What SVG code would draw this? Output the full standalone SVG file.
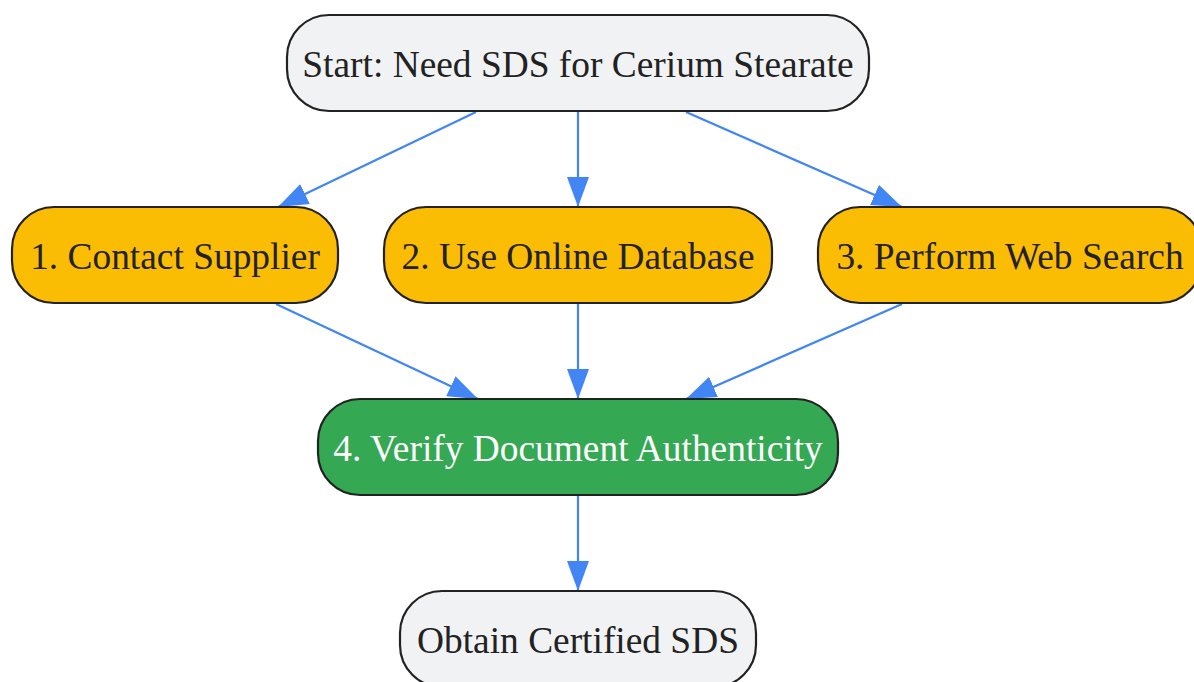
<svg xmlns="http://www.w3.org/2000/svg" width="1194" height="682" viewBox="0 0 1194 682">
<style>
.node rect{stroke:#222222;stroke-width:2.2}
.grey rect{fill:#F1F2F4}
.yellow rect{fill:#FBBC04}
.green rect{fill:#34A853}
.node text{font-family:"Liberation Serif","Times New Roman",serif;font-size:37.4px;text-anchor:middle;fill:#222222}
.green text{fill:#FFFFFF}
.edge{stroke:#4285F4;stroke-width:2.2;fill:none;marker-end:url(#arr)}
</style>
<defs>
<marker id="arr" markerUnits="userSpaceOnUse" viewBox="0 0 30 22" markerWidth="30" markerHeight="22" refX="30" refY="11" orient="auto">
<path d="M0,0 L30,11 L0,22 z" fill="#4285F4"/>
</marker>
</defs>
<rect width="1194" height="682" fill="#FFFFFF"/>
<g id="connectors">
<path class="edge" d="M476,112 L278,207"/>
<path class="edge" d="M578,112 L578,207"/>
<path class="edge" d="M686,112 L902,207"/>
<path class="edge" d="M276,304 L478,399"/>
<path class="edge" d="M578,304 L578,399"/>
<path class="edge" d="M902,304 L686,399"/>
<path class="edge" d="M578,496 L578,591"/>
</g>
<g id="start" class="node grey">
<rect x="287" y="15" width="582" height="96" rx="42" ry="42"/>
<text x="578" y="77">Start: Need SDS for Cerium Stearate</text>
</g>
<g id="step1" class="node yellow">
<rect x="12" y="207" width="326" height="96" rx="42" ry="42"/>
<text x="175" y="269">1. Contact Supplier</text>
</g>
<g id="step2" class="node yellow">
<rect x="384" y="207" width="388" height="96" rx="42" ry="42"/>
<text x="578" y="269">2. Use Online Database</text>
</g>
<g id="step3" class="node yellow">
<rect x="818" y="207" width="384" height="96" rx="42" ry="42"/>
<text x="1010" y="269">3. Perform Web Search</text>
</g>
<g id="step4" class="node green">
<rect x="318" y="399" width="520" height="96" rx="42" ry="42"/>
<text x="578" y="461">4. Verify Document Authenticity</text>
</g>
<g id="end" class="node grey">
<rect x="400" y="591" width="356" height="96" rx="42" ry="42"/>
<text x="578" y="653">Obtain Certified SDS</text>
</g>
</svg>
